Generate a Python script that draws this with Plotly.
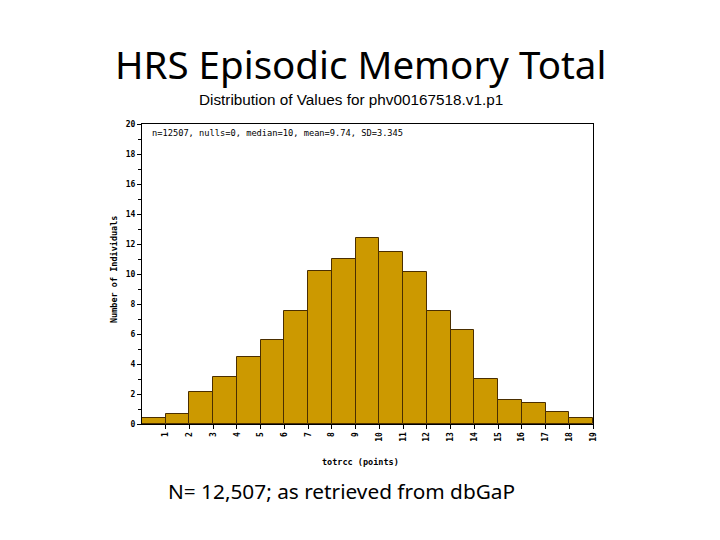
import plotly.graph_objects as go

# Data: percent of individuals per score bin (totrcc points)
bin_left = list(range(0, 19))
percent = [0.40, 0.67, 2.13, 3.13, 4.47, 5.62, 7.53, 10.20, 10.97, 12.42,
           11.49, 10.13, 7.53, 6.27, 3.02, 1.60, 1.40, 0.82, 0.42]
x_ticks = list(range(1, 20))
y_ticks = list(range(0, 21, 2))

title_text = "HRS Episodic Memory Total"
subtitle_text = "Distribution of Values for phv00167518.v1.p1"
stats_text = "n=12507, nulls=0, median=10, mean=9.74, SD=3.345"
x_title = "totrcc (points)"
y_title = "Number of Individuals"
footer_text = "N= 12,507; as retrieved from dbGaP"

# plot area in page pixels (page has an 8px body margin)
OFF = 8
L, R, T, B = 142, 593, 124, 424
W, H = 720, 540


def px(xp):
    return (xp - L) / (R - L)


def py(yp):
    return (B - yp) / (B - T)


fig = go.Figure()
fig.add_trace(go.Bar(
    x=[v + 0.5 for v in bin_left],
    y=percent,
    width=1,
    marker=dict(color="#CC9900", line=dict(color="#4A2E00", width=1)),
    hoverinfo="skip",
))

mono = "DejaVu Sans Mono"
fig.update_layout(
    width=W, height=H, autosize=False,
    margin=dict(l=L - OFF, r=W - (R - OFF), t=T - OFF, b=H - (B - OFF), pad=0),
    paper_bgcolor="white", plot_bgcolor="white",
    showlegend=False, bargap=0,
    xaxis=dict(
        range=[0, 19], tickvals=x_ticks, ticktext=[str(v) for v in x_ticks],
        tickangle=-90, ticks="outside", ticklen=4, tickcolor="black",
        showline=True, linecolor="black", linewidth=1, mirror=True,
        showgrid=False, zeroline=False,
        tickfont=dict(family=mono, size=8, color="black", weight="bold"),
    ),
    yaxis=dict(
        range=[0, 20], tickvals=y_ticks, ticks="outside", ticklen=4, tickcolor="black",
        showline=True, linecolor="black", linewidth=1, mirror=True,
        showgrid=False, zeroline=False,
        tickfont=dict(family=mono, size=8, color="black", weight="bold"),
        minor=dict(dtick=1, tick0=0, ticks="outside", ticklen=3, tickcolor="black"),
    ),
)

ann = [
    dict(text=title_text, x=px(360), y=py(64), font=dict(family="Noto Sans", size=38.5, color="black")),
    dict(text=subtitle_text, x=px(351), y=py(99.5), font=dict(family="Liberation Sans", size=15.3, color="black")),
    dict(text=stats_text, x=px(150), y=py(133), xanchor="left",
         font=dict(family=mono, size=8.7, color="black")),
    dict(text=x_title, x=px(360), y=py(462), font=dict(family=mono, size=8.5, color="black", weight="bold")),
    dict(text=y_title, x=px(114), y=py(270), textangle=-90,
         font=dict(family=mono, size=8.5, color="black", weight="bold")),
    dict(text=footer_text, x=px(341), y=py(491), font=dict(family="Noto Sans", size=20.8, color="black")),
]
for a in ann:
    a.setdefault("xanchor", "center")
    a.update(xref="paper", yref="paper", yanchor="middle", showarrow=False)
    fig.add_annotation(**a)

fig.write_html("out.html")
